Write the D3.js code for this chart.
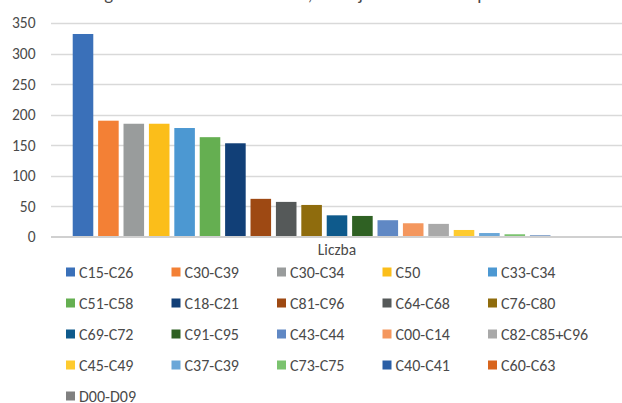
<!DOCTYPE html>
<html><head><meta charset="utf-8">
<script src="https://cdn.jsdelivr.net/npm/d3@7"></script>
<style>
html,body{margin:0;padding:0;background:#fff;overflow:hidden}
text{font-family:Carlito,Calibri,"Liberation Sans Narrow","Arial Narrow","Liberation Sans",sans-serif;}
</style></head>
<body><svg id="c" width="622" height="403"></svg>
<script>
const title = "Wg kodu ICD-10 w roku 2020, rodzaj nowotworu w podziale";
const categories = ["Liczba"];
const series = ["C15-C26","C30-C39","C30-C34","C50","C33-C34","C51-C58","C18-C21","C81-C96","C64-C68","C76-C80","C69-C72","C91-C95","C43-C44","C00-C14","C82-C85+C96","C45-C49","C37-C39","C73-C75","C40-C41","C60-C63","D00-D09"];
const values = [332,190,185,185,178,163,153,62,57,52,35,34,27,22,21,11,6,4,2,1,1];
const colors = ["#3A70B9","#F38035","#999C9C","#FBBE1A","#4C98D2","#65AF51","#113F77","#9E4913","#555959","#8F6C0D","#0E5A8C","#2F6123","#6088C4","#F4975E","#A9A9A9","#FECB2F","#6AA7D8","#7BC36F","#2A5EA5","#D8651E","#808080"];
const yTicks = [0,50,100,150,200,250,300,350];

const FONT = 'Carlito,Calibri,"Liberation Sans Narrow","Arial Narrow","Liberation Sans",sans-serif';
const TXT = "#4a4a4a";
const svg = d3.select("#c");
const plot = {left:51, right:623, top:23, bottom:236.7};

const y = d3.scaleLinear().domain([0,350]).range([plot.bottom, plot.top]);
const x0 = d3.scaleBand().domain(categories).range([plot.left, plot.right]).paddingOuter(0);
const x1 = d3.scaleBand().domain(series)
  .range([19.3, x0.bandwidth()-19.3]).paddingInner(0.19).paddingOuter(0.095);

// title (cut off at top edge, as in the reference)
svg.append("text").attr("x", 88).attr("y", -0.5).attr("text-anchor","start")
  .attr("font-size", 18.7).attr("fill",TXT).text(title);

// gridlines
svg.append("g").selectAll("line").data(yTicks.filter(d=>d>0)).join("line")
  .attr("x1", plot.left).attr("x2", plot.right)
  .attr("y1", d=>Math.round(y(d))+0.5).attr("y2", d=>Math.round(y(d))+0.5)
  .attr("stroke","#D9D9D9").attr("stroke-width",1.5);

// y axis labels
const yAxis = d3.axisLeft(y).tickValues(yTicks).tickSize(0).tickPadding(0);
const ga = svg.append("g").attr("transform","translate(35.5,0)").call(yAxis);
ga.select(".domain").remove();
ga.selectAll("text").attr("font-size",15.5).attr("fill",TXT).style("font-family",FONT);

// bars
const g = svg.append("g");
categories.forEach(cat=>{
  g.selectAll("rect.b").data(series.map((s,i)=>({s, v:values[i], c:colors[i]}))).join("rect")
    .attr("x", d=>x0(cat)+x1(d.s))
    .attr("width", x1.bandwidth())
    .attr("y", d=>y(d.v))
    .attr("height", d=>y(0)-y(d.v))
    .attr("fill", d=>d.c);
});

// baseline axis
svg.append("line").attr("x1",plot.left).attr("x2",plot.right)
  .attr("y1",y(0)+0.3).attr("y2",y(0)+0.3).attr("stroke","#D0D0D0").attr("stroke-width",2);

// category label
const xAxis = d3.axisBottom(x0).tickSize(0).tickPadding(0);
const gx = svg.append("g").attr("transform",`translate(0,255)`).call(xAxis);
gx.select(".domain").remove();
gx.selectAll("text").attr("font-size",15.5).attr("fill",TXT).attr("y",0).attr("dy","0")
  .style("font-family",FONT);

// legend
const cols = 5, colW = 105.5, lx = 66, ly = 272, rowH = 31;
const lg = svg.append("g").selectAll("g").data(series).join("g")
  .attr("transform",(d,i)=>`translate(${lx + (i%cols)*colW},${ly + Math.floor(i/cols)*rowH})`);
lg.append("rect").attr("x",0).attr("y",-4.5).attr("width",9).attr("height",9)
  .attr("fill",(d,i)=>colors[i]);
lg.append("text").attr("x",13).attr("y",0).attr("dy","0.35em")
  .attr("font-size",16).attr("fill",TXT).text(d=>d);
</script></body></html>
